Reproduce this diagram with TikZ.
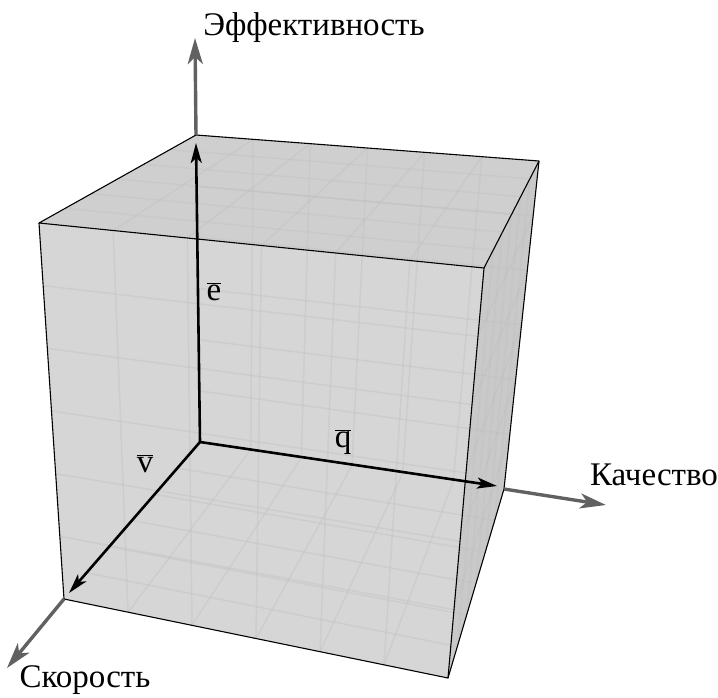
\documentclass[tikz,border=0pt]{standalone}
\usepackage{fontspec}
\setmainfont{Liberation Serif}
\usetikzlibrary{arrows.meta,calc}
\tikzset{
  edge/.style={black,line width=1.1pt,line join=round},
  gridline/.style={black!25,line width=1.6pt,opacity=0.35},
  blackaxis/.style={black,line width=2.6pt,-{Stealth[length=20pt,width=11pt,inset=5pt]}},
  grayaxis/.style={black!62,line width=3.4pt,-{Stealth[length=26pt,width=15pt,inset=7pt]}},
  lbl/.style={font=\fontsize{33}{40}\selectfont,inner sep=0pt,anchor=base},
}
\newcommand{\barlet}[1]{$\overline{\hbox{#1}}$}
\begin{document}
\begin{tikzpicture}[x=1pt,y=-1pt]
\useasboundingbox (0,0) rectangle (718,697);
% cube vertices
\coordinate (FTL) at (39,223);
\coordinate (FTR) at (484,268);
\coordinate (FBR) at (448,678);
\coordinate (FBL) at (64,599);
\coordinate (BTL) at (196,135);
\coordinate (BTR) at (539,161);
\coordinate (BBR) at (504,489);
\coordinate (O) at (200,442);
% axis tips
\coordinate (Etip) at (195,38);
\coordinate (Qtip) at (606,505);
\coordinate (Vtip) at (7,668);
\coordinate (Eend) at (196,143);
\coordinate (Qend) at (497,486);
\coordinate (Vend) at (69,593);
% faces
\fill[black!16] (FTL) -- (FTR) -- (FBR) -- (FBL) -- cycle;
\fill[black!19] (FTL) -- (BTL) -- (BTR) -- (FTR) -- cycle;
\fill[black!21] (FTR) -- (BTR) -- (BBR) -- (FBR) -- cycle;
% grids on all faces
\foreach \t in {0.1667,0.3333,0.5,0.6667,0.8333}{
  \draw[gridline] ($(FTL)!\t!(FTR)$) -- ($(FBL)!\t!(FBR)$);
  \draw[gridline] ($(FTL)!\t!(FBL)$) -- ($(FTR)!\t!(FBR)$);
  \draw[gridline] ($(BTL)!\t!(BTR)$) -- ($(O)!\t!(BBR)$);
  \draw[gridline] ($(BTL)!\t!(O)$) -- ($(BTR)!\t!(BBR)$);
  \draw[gridline] ($(O)!\t!(BBR)$) -- ($(FBL)!\t!(FBR)$);
  \draw[gridline] ($(O)!\t!(FBL)$) -- ($(BBR)!\t!(FBR)$);
  \draw[gridline] ($(BTL)!\t!(BTR)$) -- ($(FTL)!\t!(FTR)$);
  \draw[gridline] ($(BTL)!\t!(FTL)$) -- ($(BTR)!\t!(FTR)$);
  \draw[gridline] ($(BTR)!\t!(BBR)$) -- ($(FTR)!\t!(FBR)$);
  \draw[gridline] ($(BTR)!\t!(FTR)$) -- ($(BBR)!\t!(FBR)$);
}
% visible edges
\draw[edge] (FTL) -- (BTL) -- (BTR) -- (FTR) -- cycle;
\draw[edge] (FTL) -- (FBL) -- (FBR) -- (FTR);
\draw[edge] (BTR) -- (BBR) -- (FBR);
% axes
\draw[grayaxis] (BTL) -- (Etip);
\draw[grayaxis] (BBR) -- (Qtip);
\draw[grayaxis] (FBL) -- (Vtip);
\draw[blackaxis] (O) -- (Eend);
\draw[blackaxis] (O) -- (Qend);
\draw[blackaxis] (O) -- (Vend);
% labels
\node[lbl] (le) at (314,35) {Эффективность};
\node[lbl] (lq) at (654,485) {Качество};
\node[lbl] (lv) at (85,687) {Скорость};
\node[lbl] (be) at (214,300) {\barlet{e}};
\node[lbl] (bq) at (343,447) {\barlet{q}};
\node[lbl] (bv) at (145,472) {\barlet{v}};
\end{tikzpicture}
\end{document}
